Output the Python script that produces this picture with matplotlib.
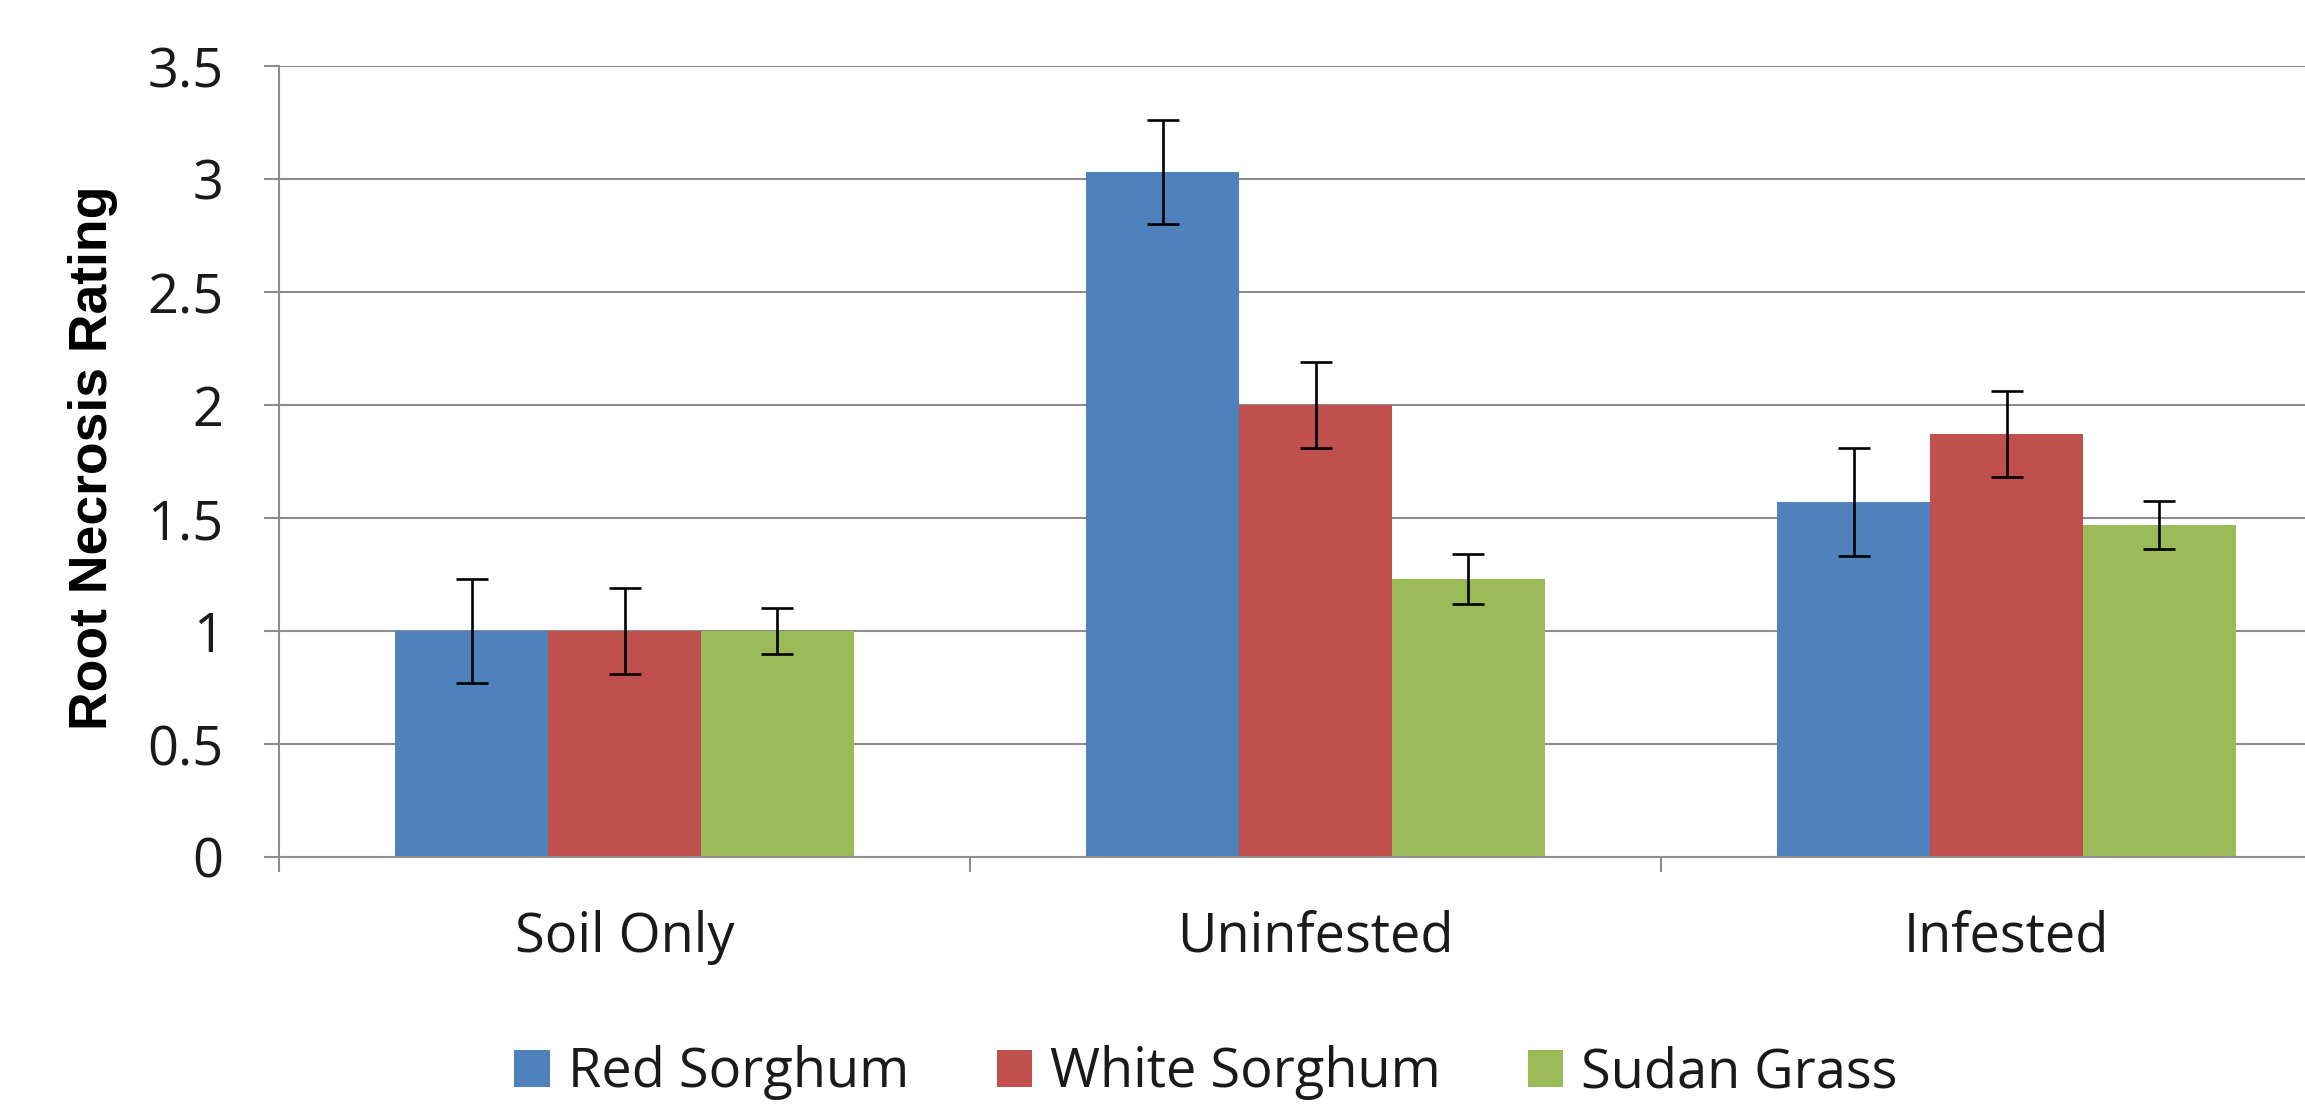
import matplotlib
matplotlib.use("Agg")
import matplotlib.pyplot as plt
import numpy as np

# ---- data ----
categories = ["Soil Only", "Uninfested", "Infested"]
series_names = ["Red Sorghum", "White Sorghum", "Sudan Grass"]
red_sorghum = [1.00, 3.03, 1.57]
white_sorghum = [1.00, 2.00, 1.87]
sudan_grass = [1.00, 1.23, 1.47]
red_sorghum_err = [0.23, 0.23, 0.24]
white_sorghum_err = [0.19, 0.19, 0.19]
sudan_grass_err = [0.10, 0.11, 0.105]
y_ticks = [0, 0.5, 1, 1.5, 2, 2.5, 3, 3.5]
y_tick_labels = ["0", "0.5", "1", "1.5", "2", "2.5", "3", "3.5"]
y_label = "Root Necrosis Rating"

colors = ["#4F81BD", "#C0504D", "#9BBB59"]
grid_color = "#8C8C8C"
text_color = "#1a1a1a"

W, H = 2305, 1107
dpi = 100
fig = plt.figure(figsize=(W / dpi, H / dpi), dpi=dpi)
fig.patch.set_facecolor("white")

left_px, right_px, bottom_px, top_px = 279, 2352, 857, 66
ax = fig.add_axes([left_px / W, 1 - bottom_px / H,
                   (right_px - left_px) / W, (bottom_px - top_px) / H])

font = ["Open Sans", "DejaVu Sans"]
fs = 39

x = np.arange(len(categories))
bw = 0.221
values = [red_sorghum, white_sorghum, sudan_grass]
errs = [red_sorghum_err, white_sorghum_err, sudan_grass_err]
for i, (vals, er, c, name) in enumerate(zip(values, errs, colors, series_names)):
    ax.bar(x + (i - 1) * bw, vals, bw, color=c, label=name, zorder=2,
           yerr=er, capsize=11.5,
           error_kw=dict(elinewidth=1.9, capthick=1.9, ecolor="black", zorder=3))

ax.set_xlim(-0.5, 2.5)
ax.set_ylim(0, 3.5)

ax.set_yticks(y_ticks)
ax.set_yticklabels(y_tick_labels, fontsize=fs, fontfamily=font, color=text_color)
ax.yaxis.grid(True, color=grid_color, linewidth=1.5)
ax.set_axisbelow(True)

ax.set_xticks([-0.5, 0.5, 1.5, 2.5])
ax.set_xticklabels([])
ax.set_xticks(x, minor=True)
ax.set_xticklabels(categories, minor=True, fontsize=fs, fontfamily=font, color=text_color)
ax.tick_params(axis="x", which="major", length=10.8, width=1.5, color=grid_color, direction="out")
ax.tick_params(axis="x", which="minor", length=0, pad=38)
ax.tick_params(axis="y", length=10.8, width=1.5, color=grid_color, direction="out", pad=29)

for s in ["top", "right"]:
    ax.spines[s].set_visible(False)
for s in ["left", "bottom"]:
    ax.spines[s].set_color(grid_color)
    ax.spines[s].set_linewidth(1.5)

fig.text(93 / W, 1 - 458 / H, y_label, rotation=90, ha="center", va="center",
         fontsize=38.5, fontweight="bold", color="black",
         fontfamily=["Liberation Sans", "DejaVu Sans"])

leg = fig.legend(loc="center", bbox_to_anchor=(1206 / W, 1 - 1073 / H), ncol=3,
                 frameon=False, prop={"family": font, "size": fs},
                 handlelength=0.65, handleheight=0.65, handletextpad=0.33,
                 columnspacing=1.62, borderaxespad=0, borderpad=0)
for t in leg.get_texts():
    t.set_color(text_color)

fig.savefig("out.png", dpi=dpi, facecolor="white")
